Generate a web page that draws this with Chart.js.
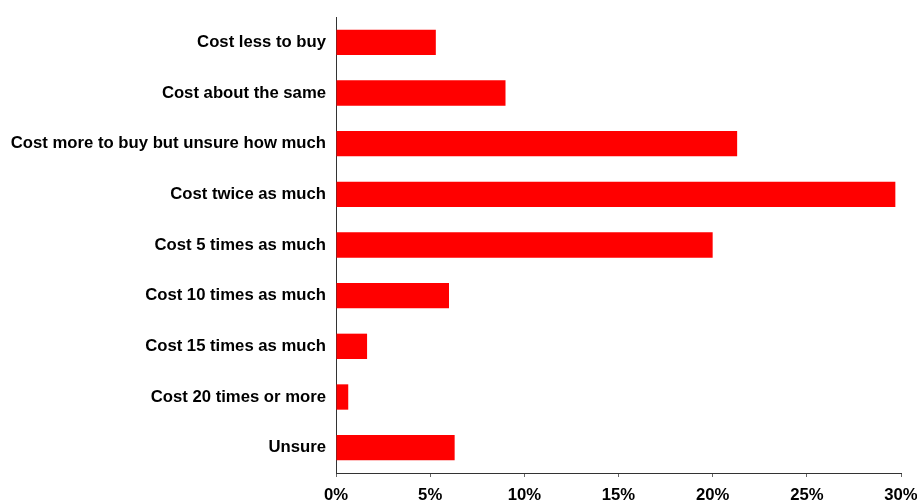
<!DOCTYPE html>
<html lang="en">

<head>
    <meta charset="UTF-8">
    <title>Cost comparison</title>
    <style>
        body { margin: 0; background: #fff; }
    </style>
</head>

<body>
    <canvas id="costChart" width="917" height="502"></canvas>
</body>

<script src="https://cdn.jsdelivr.net/npm/chart.js"></script>

<script>
    const categories = [
        'Cost less to buy',
        'Cost about the same',
        'Cost more to buy but unsure how much',
        'Cost twice as much',
        'Cost 5 times as much',
        'Cost 10 times as much',
        'Cost 15 times as much',
        'Cost 20 times or more',
        'Unsure'
    ];
    // share of answers, in percent
    const shares = [5.3, 9.0, 21.3, 29.7, 20.0, 6.0, 1.65, 0.65, 6.3];
    const xTicks = [0, 5, 10, 15, 20, 25, 30];

    const font = { family: "Arial, 'Liberation Sans', sans-serif", size: 16.7, weight: 'bold' };

    const ctx = document.getElementById('costChart').getContext('2d');
    const chart = new Chart(ctx, {
        type: 'bar',
        data: {
            labels: categories,
            datasets: [{
                data: shares,
                backgroundColor: '#ff0000',
                borderWidth: 0,
                categoryPercentage: 1.0,
                barPercentage: 0.5
            }]
        },
        options: {
            indexAxis: 'y',
            responsive: false,
            animation: false,
            layout: { padding: { top: 17, right: 16, bottom: 0, left: 0 } },
            plugins: {
                legend: { display: false },
                tooltip: { enabled: false }
            },
            scales: {
                x: {
                    min: xTicks[0],
                    max: xTicks[xTicks.length - 1],
                    afterBuildTicks: scale => {
                        scale.ticks = xTicks.map(v => ({ value: v }));
                    },
                    afterFit: scale => {
                        scale.height = 29;
                        // let the 30% label hang past the plot edge
                        scale.paddingLeft = 0;
                        scale.paddingRight = 0;
                    },
                    grid: {
                        drawOnChartArea: false,
                        drawTicks: true,
                        tickLength: 4,
                        color: '#666'
                    },
                    border: { display: true, color: '#333', width: 1 },
                    ticks: {
                        padding: 8,
                        color: '#000',
                        font: font,
                        maxRotation: 0,
                        callback: v => v + '%'
                    }
                },
                y: {
                    afterFit: scale => {
                        scale.width = 336;
                        scale.paddingTop = 0;
                        scale.paddingBottom = 0;
                    },
                    grid: { display: false, drawTicks: false },
                    border: { display: true, color: '#333', width: 1 },
                    ticks: {
                        padding: 10,
                        color: '#000',
                        font: font
                    }
                }
            }
        }
    });
</script>

</html>
